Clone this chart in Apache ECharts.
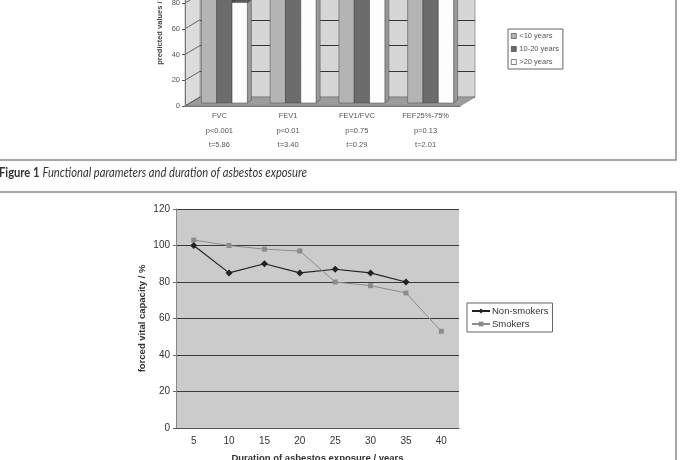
<!DOCTYPE html>
<html>
<head>
<meta charset="utf-8">
<script src="https://cdn.jsdelivr.net/npm/echarts@6/dist/echarts.min.js"></script>
<style>
  html, body { margin: 0; padding: 0; background: #fff; }
  #chart { width: 680px; height: 460px; }
</style>
</head>
<body>
<div id="chart"></div>
<script>
// Figure 1 - lung function by duration of exposure (3D-style bars, cropped at top)
const categories = ['FVC', 'FEV1', 'FEV1/FVC', 'FEF25%-75%']
const pValues = ['p<0.001', 'p<0.01', 'p=0.75', 'p=0.13']
const tValues = ['t=5.86', 't=3.40', 't=0.29', 't=2.01']
const under10 = [97, 96, 101, 92]
const from10to20 = [91, 92, 103, 88]
const over20 = [78, 88, 106, 84]
const barTicks = [0, 20, 40, 60, 80, 100, 120]

// Figure 2 - forced vital capacity vs duration of exposure
const years = ['5', '10', '15', '20', '25', '30', '35', '40']
const nonSmokers = [100, 85, 90, 85, 87, 85, 80, null]
const smokers = [103, 100, 98, 97, 80, 78, 74, 53]

const FONT = '"Liberation Sans", Arial, sans-serif'
const DEPTH_X = 15
const DEPTH_Y = 9

const barColors = {
  '<10 years': ['#b4b4b4', '#8a8a8a', '#cfcfcf'],
  '10-20 years': ['#6c6c6c', '#4e4e4e', '#8a8a8a'],
  '>20 years': ['#fdfdfd', '#9a9a9a', '#5a5a5a']
}

const chart = echarts.init(document.getElementById('chart'))

// side wall, slanted ticks and floor of the 3D box
const renderWalls = (params, api) => {
  const half = api.size([1, 0])[0] / 2
  const first = api.coord([0, 0])
  const last = api.coord([categories.length - 1, 0])
  const top = api.coord([0, 120])[1]
  const xl = first[0] - half
  const xr = last[0] + half
  const yb = first[1]
  const children = [
    {
      type: 'polygon',
      shape: { points: [[xl, yb], [xl, top], [xl + DEPTH_X, top - DEPTH_Y], [xl + DEPTH_X, yb - DEPTH_Y]] },
      style: { fill: '#dcdcdc', stroke: '#888', lineWidth: 0.6 }
    },
    {
      type: 'polygon',
      shape: { points: [[xl, yb], [xr, yb], [xr + DEPTH_X, yb - DEPTH_Y], [xl + DEPTH_X, yb - DEPTH_Y]] },
      style: { fill: '#9c9c9c', stroke: '#777', lineWidth: 0.6 }
    }
  ]
  barTicks.forEach(v => {
    const y = api.coord([0, v])[1]
    children.push({
      type: 'line',
      shape: { x1: xl, y1: y, x2: xl + DEPTH_X, y2: y - DEPTH_Y },
      style: { stroke: '#444', lineWidth: 0.8 }
    })
  })
  return { type: 'group', children }
}

const makeBarRenderer = (slot, fill, side, cap) => (params, api) => {
  const cat = api.value(0)
  const base = api.coord([cat, 0])
  const tip = api.coord([cat, api.value(1)])
  const barW = api.size([1, 0])[0] * 0.223
  const dx = 4
  const dy = 3
  const x0 = base[0] - 1.5 * barW + slot * barW + 5
  const yb = base[1] - 3
  const yt = tip[1] - 3
  return {
    type: 'group',
    children: [
      {
        type: 'polygon',
        shape: { points: [[x0 + barW, yb], [x0 + barW + dx, yb - dy], [x0 + barW + dx, yt - dy], [x0 + barW, yt]] },
        style: { fill: side, stroke: '#444', lineWidth: 0.5 }
      },
      {
        type: 'polygon',
        shape: { points: [[x0, yt], [x0 + dx, yt - dy], [x0 + barW + dx, yt - dy], [x0 + barW, yt]] },
        style: { fill: cap, stroke: '#333', lineWidth: 0.6 }
      },
      {
        type: 'rect',
        shape: { x: x0, y: yt, width: barW, height: yb - yt },
        style: { fill, stroke: '#444', lineWidth: 0.5 }
      }
    ]
  }
}

const barSeries = (name, values, slot) => ({
  name,
  type: 'custom',
  xAxisIndex: 0,
  yAxisIndex: 0,
  itemStyle: { color: barColors[name][0] },
  renderItem: makeBarRenderer(slot, ...barColors[name]),
  data: values.map((v, i) => [i, v])
})

const option = {
  animation: false,
  backgroundColor: '#fff',
  textStyle: { fontFamily: FONT },
  graphic: [
    {
      type: 'rect',
      shape: { x: -10, y: -10, width: 686, height: 170 },
      style: { fill: 'none', stroke: '#8a8a8a', lineWidth: 1.5 },
      z: 10
    },
    {
      type: 'rect',
      shape: { x: -10, y: 192, width: 686, height: 300 },
      style: { fill: 'none', stroke: '#8a8a8a', lineWidth: 1.5 },
      z: 10
    },
    {
      type: 'text',
      x: -1,
      y: 166,
      scaleX: 0.86,
      style: {
        text: '{b|Figure 1} {i|Functional parameters and duration of asbestos exposure}',
        rich: {
          b: { fontFamily: 'Lato, sans-serif', fontWeight: 'bold', fontSize: 13, fill: '#333' },
          i: { fontFamily: 'Lato, sans-serif', fontStyle: 'italic', fontSize: 13, fill: '#333' }
        }
      }
    }
  ],
  legend: [
    {
      orient: 'vertical',
      left: 508,
      top: 29,
      padding: [3, 4, 3, 3],
      itemWidth: 5,
      itemHeight: 5,
      itemGap: 5,
      borderColor: '#666',
      borderWidth: 1,
      backgroundColor: '#fff',
      icon: 'rect',
      textStyle: { fontSize: 7.5, color: '#555', padding: [0, 0, 0, -2] },
      data: Object.keys(barColors).map(name => ({
        name,
        itemStyle: { color: barColors[name][0], borderColor: '#333', borderWidth: 0.6 }
      }))
    },
    {
      orient: 'vertical',
      left: 467,
      top: 303,
      padding: [3, 4, 3, 4],
      itemWidth: 18,
      itemHeight: 6,
      itemGap: 3,
      borderColor: '#666',
      borderWidth: 1,
      backgroundColor: '#fff',
      textStyle: { fontSize: 9.5, color: '#333', padding: [0, 0, 0, -3] },
      data: ['Non-smokers', 'Smokers']
    }
  ],
  grid: [
    // front plane of the 3D bar chart
    { left: 185, width: 275, top: -48.5, height: 154.5, outerBoundsMode: 'none' },
    // back wall
    { left: 200, width: 275, top: -57.5, height: 154.5, outerBoundsMode: 'none', show: true, backgroundColor: '#d6d6d6', borderColor: '#888', borderWidth: 0.8 },
    // line chart
    { left: 176, width: 283, top: 209, height: 219, outerBoundsMode: 'none', show: true, backgroundColor: '#cbcbcb', borderWidth: 0 }
  ],
  xAxis: [
    {
      gridIndex: 0,
      type: 'category',
      data: categories,
      z: 3,
      axisLine: { lineStyle: { color: '#777', width: 1 } },
      axisTick: { length: 44, interval: 0, lineStyle: { color: '#777', width: 1 } },
      axisLabel: {
        interval: 0,
        margin: 3,
        fontSize: 7.5,
        color: '#555',
        lineHeight: 14.5,
        formatter: (val, i) => val + '\n' + pValues[i] + '\n' + tValues[i]
      }
    },
    {
      gridIndex: 1,
      type: 'category',
      data: categories,
      show: false
    },
    {
      gridIndex: 2,
      type: 'category',
      data: years,
      name: 'Duration of asbestos exposure / years',
      nameLocation: 'middle',
      nameGap: 25,
      nameTextStyle: { fontSize: 9.5, fontWeight: 'bold', color: '#333' },
      axisLine: { lineStyle: { color: '#555', width: 1 } },
      axisTick: { length: 3, lineStyle: { color: '#555' } },
      axisLabel: { fontSize: 10, color: '#333', margin: 8 }
    }
  ],
  yAxis: [
    {
      gridIndex: 0,
      type: 'value',
      min: 0,
      max: 120,
      interval: 20,
      z: 3,
      name: 'predicted values / %',
      nameLocation: 'middle',
      nameGap: 20,
      nameTextStyle: { fontSize: 7.5, fontWeight: 'bold', color: '#444' },
      axisLine: { show: true, lineStyle: { color: '#777', width: 1 } },
      axisTick: { show: true, length: 3, lineStyle: { color: '#555' } },
      axisLabel: { fontSize: 7.5, color: '#555', margin: 5 },
      splitLine: { show: false }
    },
    {
      gridIndex: 1,
      type: 'value',
      min: 0,
      max: 120,
      interval: 20,
      axisLine: { show: false },
      axisTick: { show: false },
      axisLabel: { show: false },
      splitLine: { show: true, lineStyle: { color: '#333', width: 1 } }
    },
    {
      gridIndex: 2,
      type: 'value',
      min: 0,
      max: 120,
      interval: 20,
      name: 'forced vital capacity / %',
      nameLocation: 'middle',
      nameGap: 29,
      nameTextStyle: { fontSize: 9.5, fontWeight: 'bold', color: '#333' },
      axisLine: { show: true, lineStyle: { color: '#888', width: 1 } },
      axisTick: { show: true, length: 3, lineStyle: { color: '#666' } },
      axisLabel: { fontSize: 10, color: '#333', margin: 6 },
      splitLine: { show: true, lineStyle: { color: '#3a3a3a', width: 1 } }
    }
  ],
  series: [
    {
      name: 'walls',
      type: 'custom',
      xAxisIndex: 0,
      yAxisIndex: 0,
      silent: true,
      renderItem: renderWalls,
      data: [[0, 0]]
    },
    barSeries('<10 years', under10, 0),
    barSeries('10-20 years', from10to20, 1),
    barSeries('>20 years', over20, 2),
    {
      name: 'Non-smokers',
      type: 'line',
      xAxisIndex: 2,
      yAxisIndex: 2,
      data: nonSmokers,
      symbol: 'diamond',
      symbolSize: 7,
      lineStyle: { color: '#222', width: 1.2 },
      itemStyle: { color: '#222' }
    },
    {
      name: 'Smokers',
      type: 'line',
      xAxisIndex: 2,
      yAxisIndex: 2,
      data: smokers,
      symbol: 'rect',
      symbolSize: 5,
      lineStyle: { color: '#8c8c8c', width: 1 },
      itemStyle: { color: '#8c8c8c' }
    }
  ]
}

chart.setOption(option)
</script>
</body>
</html>
